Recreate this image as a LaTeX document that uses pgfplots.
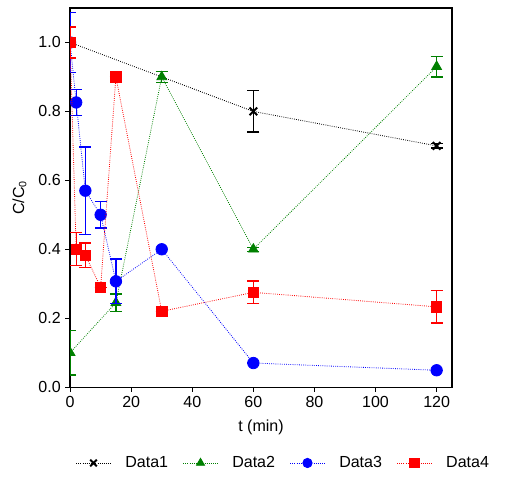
\documentclass[border=0pt]{standalone}
\usepackage{fontspec}
\setmainfont{Liberation Sans}
\usepackage{pgfplots}
\usepackage{pgfplotstable}
\pgfplotsset{compat=1.18}
\definecolor{dgreen}{RGB}{0,128,0}
\pgfplotstableread{
x y e
0 1.0 0
60 0.80 0.06
120 0.70 0.006
}\dataA
\pgfplotstableread{
x y e
0 0.10 0.065
15 0.245 0.025
30 0.90 0.015
60 0.40 0.006
120 0.93 0.03
}\dataB
\pgfplotstableread{
x y e
0 1.0 0.088
2 0.826 0.037
5 0.57 0.127
10 0.50 0.038
15 0.307 0.065
30 0.40 0.0
60 0.07 0.0
120 0.049 0.0
}\dataC
\pgfplotstableread{
x y e
0 1.0 0.045
2 0.40 0.048
5 0.383 0.035
10 0.29 0.0
15 0.90 0.0
30 0.22 0.0
60 0.275 0.033
120 0.233 0.047
}\dataD
\begin{document}
\begin{tikzpicture}
\begin{axis}[
  name=ax,
  scale only axis,
  width=286pt, height=284pt,
  xmin=0, xmax=125, ymin=0, ymax=1.1,
  xtick={0,20,...,120},
  ytick={0,0.2,...,1.0},
  yticklabel style={/pgf/number format/.cd, fixed, fixed zerofill, precision=1},
  /pgf/number format/assume math mode=true,
  tick align=outside,
  xtick pos=left, ytick pos=left,
  major tick length=3.5pt,
  axis line style={line width=0.9pt},
  tick style={line width=0.8pt, black},
  tick label style={font=\fontsize{12}{14}\selectfont},
  label style={font=\fontsize{12}{14}\selectfont},
  xlabel={t (min)},
  ylabel={C/C\textsubscript{0}},
  xlabel style={yshift=-2pt},
  ylabel style={yshift=2pt},
  clip marker paths=true,
  legend columns=4,
  legend style={at={(0.556,-0.2)}, anchor=center, draw=none,
    font=\fontsize{12}{14}\selectfont,
    nodes={inner sep=0pt},
    /tikz/every odd column/.append style={column sep=10.5pt},
    /tikz/every even column/.append style={column sep=11pt}},
  legend cell align=left,
  legend image code/.code={
    \draw[#1, mark=none] (0pt,0pt) -- (26pt,0pt);
    \draw[#1, only marks, mark size=3.5pt] plot coordinates {(13pt,0pt)};
  },
]
\addplot[black, densely dotted, line width=0.6pt, mark=x, mark size=4pt,
  mark options={solid, line width=1.5pt},
  error bars/.cd, y dir=both, y explicit,
  error bar style={solid, line width=0.9pt},
  error mark options={solid, rotate=90, mark size=4.5pt, line width=0.9pt}]
  table[x=x, y=y, y error=e]{\dataA};
\addlegendentry{Data1}
\addplot[dgreen, densely dotted, line width=0.6pt, mark=triangle*, mark size=4.2pt,
  mark options={solid, fill=dgreen},
  error bars/.cd, y dir=both, y explicit,
  error bar style={solid, line width=0.9pt},
  error mark options={solid, rotate=90, mark size=4.5pt, line width=0.9pt}]
  table[x=x, y=y, y error=e]{\dataB};
\addlegendentry{Data2}
\addplot[blue, densely dotted, line width=0.6pt, mark=*, mark size=4.3pt,
  mark options={solid, fill=blue},
  error bars/.cd, y dir=both, y explicit,
  error bar style={solid, line width=0.9pt},
  error mark options={solid, rotate=90, mark size=4.5pt, line width=0.9pt}]
  table[x=x, y=y, y error=e]{\dataC};
\addlegendentry{Data3}
\addplot[red, densely dotted, line width=0.6pt, mark=square*, mark size=3.9pt,
  mark options={solid, fill=red},
  error bars/.cd, y dir=both, y explicit,
  error bar style={solid, line width=0.9pt},
  error mark options={solid, rotate=90, mark size=4.5pt, line width=0.9pt}]
  table[x=x, y=y, y error=e]{\dataD};
\addlegendentry{Data4}
\end{axis}
\pgfresetboundingbox
\path ([shift={(-52.5pt,-73pt)}]ax.south west) rectangle ([shift={(54pt,6pt)}]ax.north east);
\end{tikzpicture}
\end{document}
